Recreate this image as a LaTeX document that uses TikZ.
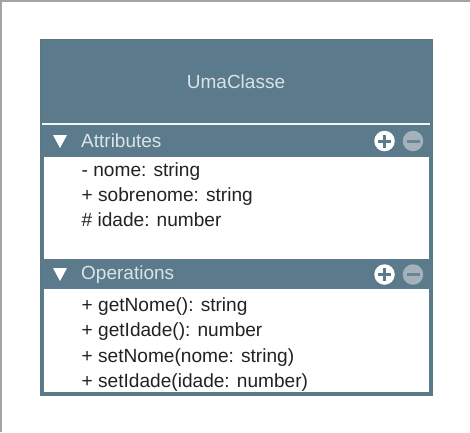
\documentclass[tikz,border=0pt]{standalone}
\usepackage{fontspec}
\setmainfont{Liberation Sans}
\usetikzlibrary{calc}
\definecolor{slate}{HTML}{5B7A8C}
\definecolor{slateborder}{HTML}{5E7684}
\definecolor{headtext}{HTML}{DCE3E8}
\definecolor{bodytext}{HTML}{222222}
\definecolor{minusgray}{HTML}{A3B2BC}
\definecolor{framegray}{HTML}{A3A3A3}
\begin{document}
\begin{tikzpicture}[x=1pt,y=-1pt,
  member/.style={anchor=base west,inner sep=0pt,text=bodytext,font=\fontsize{19.1}{21}\selectfont},
  bartext/.style={anchor=west,inner sep=0pt,text=headtext,font=\fontsize{19}{21}\selectfont},
  tri/.style={fill=white,draw=none},
  plusicon/.style={circle,fill=white,minimum size=20.5pt,inner sep=0pt},
  minusicon/.style={circle,fill=minusgray,minimum size=20.5pt,inner sep=0pt}]
\useasboundingbox (0,0) rectangle (470,432);
\fill[white] (0,0) rectangle (470,432);
% screenshot frame
\draw[framegray,line width=1.5pt] (0.75,432) -- (0.75,0.75) -- (470,0.75);
% class box
\fill[slate] (40,38.5) rectangle (432.5,395.5);
\draw[slateborder,line width=1pt] (40.5,39) rectangle (432,395);
% header separator
\fill[white!92!slate] (42,122.5) rectangle (430,124.5);
% white compartments
\fill[white] (43.5,156.5) rectangle (429,258.5);
\fill[white] (43.5,288.5) rectangle (429,392);
% header
\node[text=headtext,font=\fontsize{19}{21}\selectfont,inner sep=0pt] (title) at (236,81.5) {UmaClasse};
% Attributes bar
\fill[tri] (53,135) -- (67,135) -- (60,148) -- cycle;
\node[bartext] (attr) at (81,140.5) {Attributes};
\node[plusicon] (aplus) at (384.5,141) {};
\fill[slate] ($(aplus)+(-6.5,-1.5)$) rectangle ($(aplus)+(6.5,1.5)$);
\fill[slate] ($(aplus)+(-1.5,-6.5)$) rectangle ($(aplus)+(1.5,6.5)$);
\node[minusicon] (aminus) at (413,141) {};
\fill[slate!80!minusgray] ($(aminus)+(-6.5,-1.5)$) rectangle ($(aminus)+(6.5,1.5)$);
% attributes
\node[member] (a1) at (81.5,176.5) {- nome: string};
\node[member] (a2) at (81.5,201.5) {+ sobrenome: string};
\node[member] (a3) at (81.5,226.5) {\# idade: number};
% Operations bar
\fill[tri] (53,268) -- (67,268) -- (60,281) -- cycle;
\node[bartext] (ops) at (81,274.5) {Operations};
\node[plusicon] (oplus) at (384.5,274.5) {};
\fill[slate] ($(oplus)+(-6.5,-1.5)$) rectangle ($(oplus)+(6.5,1.5)$);
\fill[slate] ($(oplus)+(-1.5,-6.5)$) rectangle ($(oplus)+(1.5,6.5)$);
\node[minusicon] (ominus) at (413,274.5) {};
\fill[slate!80!minusgray] ($(ominus)+(-6.5,-1.5)$) rectangle ($(ominus)+(6.5,1.5)$);
% operations
\node[member] (o1) at (81.5,311.5) {+ getNome(): string};
\node[member] (o2) at (81.5,336.8) {+ getIdade(): number};
\node[member] (o3) at (81.5,362.1) {+ setNome(nome: string)};
\node[member] (o4) at (81.5,387.4) {+ setIdade(idade: number)};
\end{tikzpicture}
\end{document}
